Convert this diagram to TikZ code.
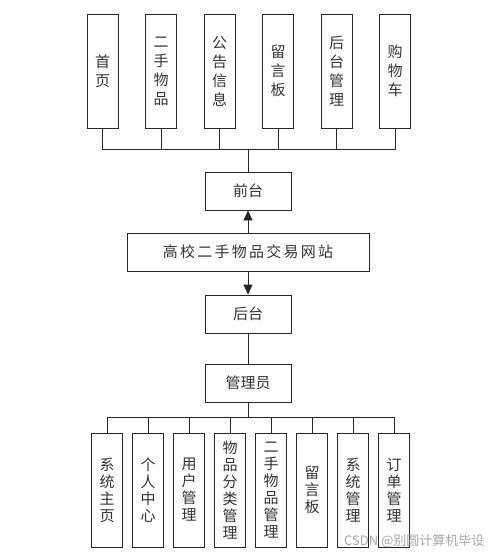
\documentclass[tikz,border=0pt]{standalone}
\usepackage{fontspec}
\setmainfont{Noto Sans CJK SC}
\usetikzlibrary{arrows.meta}

\begin{document}
\begin{tikzpicture}[x=1pt,y=-1pt,
  box/.style={rectangle,draw=black!85,line width=0.9pt,inner sep=0pt,
    font=\fontsize{15}{19}\selectfont,text=black!80},
  hbox/.style={box,minimum width=86pt,minimum height=38pt},
  vbox/.style={box,minimum width=31pt,minimum height=114pt,align=center},
  link/.style={draw=black!85,line width=0.9pt},
  arr/.style={link,-{Triangle[length=10pt,width=9pt]}}]
  \useasboundingbox (0,0) rectangle (500,556);

  % main nodes
  \node[box,minimum width=242pt,minimum height=38pt,
    font=\fontsize{15}{18}\selectfont\addfontfeature{LetterSpace=15}]
    (site) at (248,252) {高校二手物品交易网站};
  \node[hbox] (qt) at (248,191) {前台};
  \node[hbox] (ht) at (248,314) {后台};
  \node[hbox] (gly) at (248,383) {管理员};

  \draw[arr] (site) -- (qt);
  \draw[arr] (site) -- (ht);
  \draw[link] (ht) -- (gly);

  % front pages
  \foreach \txt [count=\i] in {首\\页, 二\\手\\物\\品, 公\\告\\信\\息,
      留\\言\\板, 后\\台\\管\\理, 购\\物\\车} {
    \node[vbox] (t\i) at ({102.5+58.5*(\i-1)},71) {\txt};
    \draw[link] (qt.north) -- ++(0,-22) -| (t\i.south);
  }

  % admin pages
  \foreach \txt [count=\i] in {系\\统\\主\\页, 个\\人\\中\\心, 用\\户\\管\\理,
      物\\品\\分\\类\\管\\理, 二\\手\\物\\品\\管\\理, 留\\言\\板,
      系\\统\\管\\理, 订\\单\\管\\理} {
    \node[vbox,font=\fontsize{15}{17}\selectfont] (b\i) at ({107+41*(\i-1)},490) {\txt};
    \draw[link] (gly.south) -- ++(0,15) -| (b\i.north);
  }

  \node[text=black!35,font=\fontsize{13}{13}\selectfont,anchor=east]
    (wm) at (488,541) {CSDN @别圆计算机毕设};
\end{tikzpicture}
\end{document}
